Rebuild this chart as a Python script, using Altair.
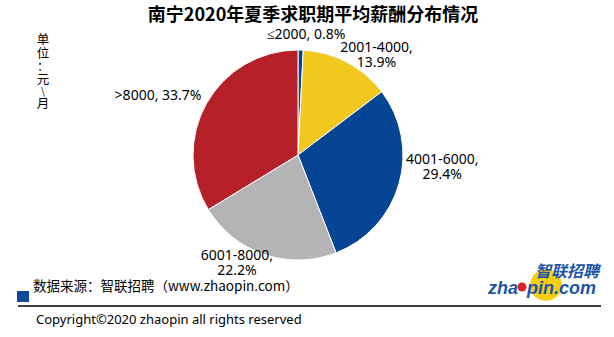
import altair as alt
import pandas as pd

# ---- data ----
categories = ["≤2000", "2001-4000", "4001-6000", "6001-8000", ">8000"]
shares = [0.8, 13.9, 29.4, 22.2, 33.7]
labels = ["≤2000, 0.8%", "2001-4000,\n13.9%", "4001-6000,\n29.4%", "6001-8000,\n22.2%", ">8000, 33.7%"]
colors = ["#064594", "#F2C81F", "#064594", "#B4B4B6", "#B51F28"]

title_text = "南宁2020年夏季求职期平均薪酬分布情况"
unit_chars = ["单", "位", "：", "元", "\\", "月"]
source_text = "数据来源：智联招聘（www.zhaopin.com）"
copyright_text = "Copyright©2020 zhaopin all rights reserved"

df = pd.DataFrame({"cat": categories, "value": shares, "label": labels,
                   "idx": list(range(len(categories)))})

CX, CY, R = 298, 155, 105

base = alt.Chart(df).encode(
    theta=alt.Theta("value:Q", stack=True),
    order=alt.Order("idx:Q"),
    x=alt.value(CX), y=alt.value(CY),
)

pie = base.mark_arc(radius=R, stroke="white", strokeWidth=1).encode(
    color=alt.Color("cat:N", scale=alt.Scale(domain=categories, range=colors), legend=None)
)

# label offsets (styling only)
offsets = {
    "≤2000": (5, 5),
    "2001-4000": (20, 3.5),
    "4001-6000": (24, -29.5),
    "6001-8000": (-21, -17),
    ">8000": (-31, 2),
}
label_layers = []
for c in categories:
    dx, dy = offsets[c]
    label_layers.append(
        base.mark_text(radius=125, dx=dx, dy=dy, font="Noto Sans", fontSize=14,
                       color="#000000", lineBreak="\n", align="center", baseline="middle",
                       lineHeight=15).encode(
            text=alt.condition(alt.datum.cat == c, alt.Text("label:N"), alt.value(""))
        )
    )

one = alt.Data(values=[{}])


def txt(s, x, y, **kw):
    return alt.Chart(one).mark_text(**kw).encode(
        x=alt.value(x), y=alt.value(y), text=alt.value(s))


title = txt(title_text, 313, 16, font="Noto Sans CJK SC", fontSize=18, fontWeight="bold",
            color="#000000", align="center", baseline="middle")
unit_y = [40, 54, 67, 80, 92, 104]
unit_sizes = [12.5, 12.5, 12, 12.5, 10, 12.5]
unit_layers = [
    txt(ch, 43, yy, font="Noto Sans CJK SC", fontSize=fs, color="#000000",
        align="center", baseline="middle")
    for ch, yy, fs in zip(unit_chars, unit_y, unit_sizes)
]
source = txt(source_text, 33, 287, font="Noto Sans CJK SC", fontSize=13.5, color="#000000",
             align="left", baseline="middle")
copyright_ = txt(copyright_text, 36, 320, font="Noto Sans", fontSize=13, color="#000000",
                 align="left", baseline="middle")

square = alt.Chart(one).mark_rect(color="#0A4A9B").encode(
    x=alt.value(17), x2=alt.value(29), y=alt.value(291), y2=alt.value(302))
hline = alt.Chart(one).mark_rule(color="#000000", strokeWidth=1.5).encode(
    x=alt.value(18), x2=alt.value(601), y=alt.value(306))

# logo
sun = alt.Chart(one).mark_circle(color="#F7CD12", opacity=1, size=1000).encode(
    x=alt.value(546), y=alt.value(285))
ball = alt.Chart(one).mark_circle(color="#D8232A", opacity=1, size=80).encode(
    x=alt.value(522), y=alt.value(287))
logo_cn = txt("智联招聘", 567, 272, font="Noto Sans CJK SC", fontSize=16, fontWeight="bold",
              fontStyle="italic", color="#1C56A5", align="center", baseline="middle")
logo_zha = txt("zha", 518, 294, font="Liberation Sans", fontSize=18, fontWeight="bold",
               fontStyle="italic", color="#1C56A5", align="right", baseline="alphabetic")
logo_pin = txt("pin.com", 527, 294, font="Liberation Sans", fontSize=18, fontWeight="bold",
               fontStyle="italic", color="#1C56A5", align="left", baseline="alphabetic")

chart = alt.layer(
    pie, *label_layers, title, *unit_layers, source, copyright_, square, hline,
    sun, ball, logo_cn, logo_zha, logo_pin
).properties(
    width=614, height=337, autosize=alt.AutoSizeParams(type="none"), padding=0,
    background="white"
).configure_view(stroke=None)

chart.save("out.html", embed_options={"renderer": "svg", "actions": False})
